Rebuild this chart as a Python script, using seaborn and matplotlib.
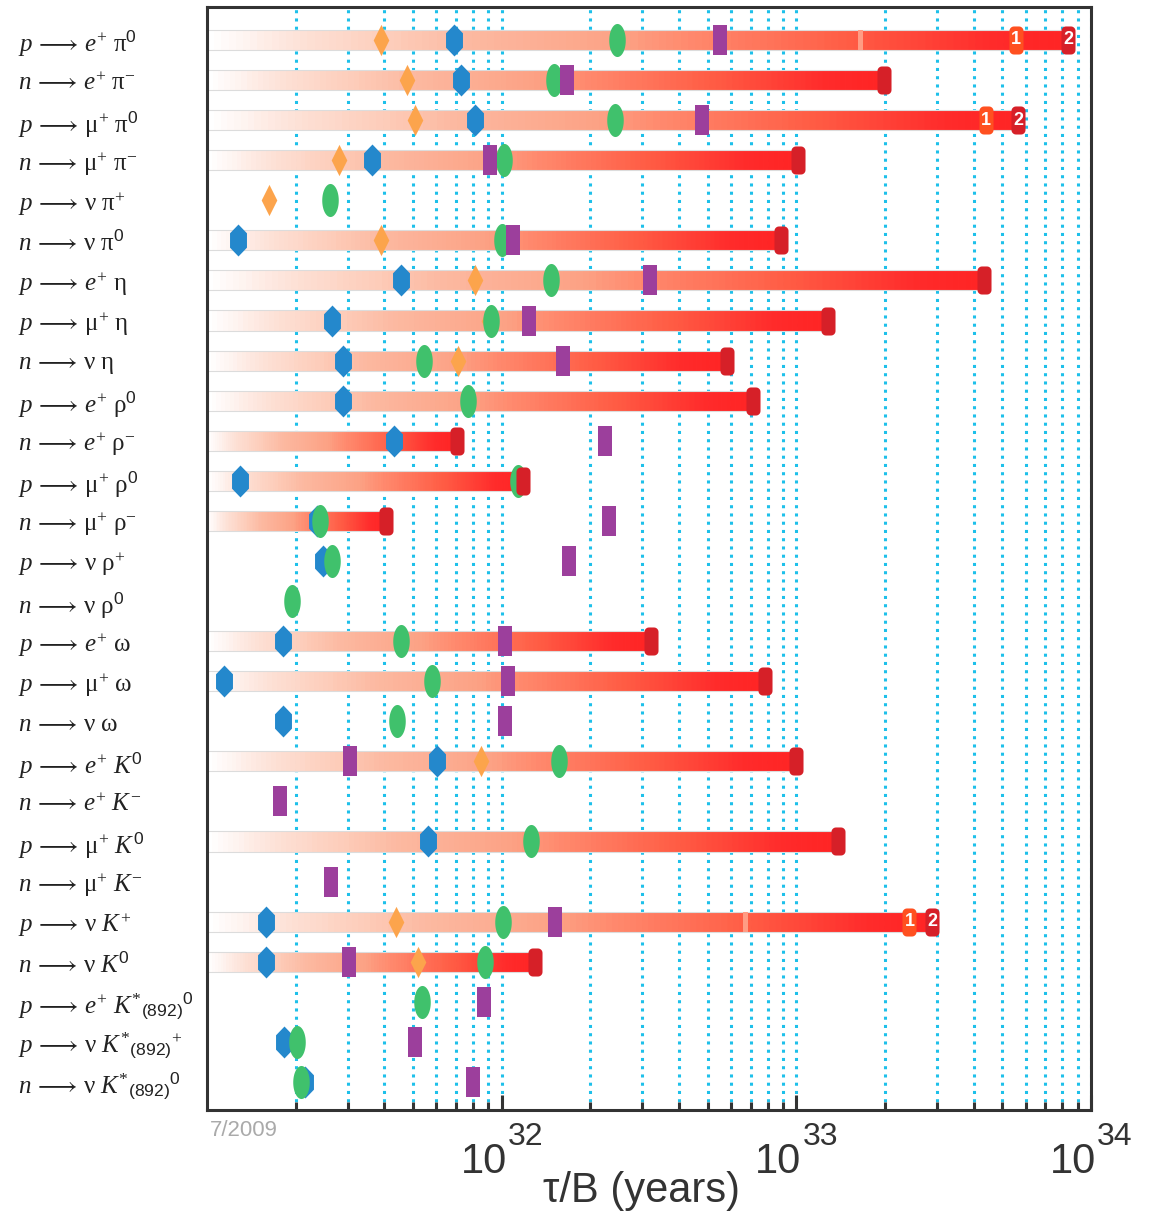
import numpy as np
import pandas as pd
import seaborn as sns
import matplotlib.pyplot as plt
import matplotlib.transforms as mtransforms
from matplotlib.colors import LinearSegmentedColormap
from matplotlib.markers import MarkerStyle
from matplotlib.path import Path
from matplotlib.ticker import LogLocator, NullFormatter

nan = np.nan
UNIT = 1e30  # all limits below are in units of 1e30 years

A = r'\,\longrightarrow\,'
KS = r'K^{*}{}_{\mathsf{(892)}}'
modes = [
    r'$p' + A + r'e^{+}\ \mathrm{\pi}^{\mathsf{0}}$',
    r'$n' + A + r'e^{+}\ \mathrm{\pi}^{-}$',
    r'$p' + A + r'\mathrm{\mu}^{+}\ \mathrm{\pi}^{\mathsf{0}}$',
    r'$n' + A + r'\mathrm{\mu}^{+}\ \mathrm{\pi}^{-}$',
    r'$p' + A + r'\mathrm{\nu}\ \mathrm{\pi}^{+}$',
    r'$n' + A + r'\mathrm{\nu}\ \mathrm{\pi}^{\mathsf{0}}$',
    r'$p' + A + r'e^{+}\ \mathrm{\eta}$',
    r'$p' + A + r'\mathrm{\mu}^{+}\ \mathrm{\eta}$',
    r'$n' + A + r'\mathrm{\nu}\ \mathrm{\eta}$',
    r'$p' + A + r'e^{+}\ \mathrm{\rho}^{\mathsf{0}}$',
    r'$n' + A + r'e^{+}\ \mathrm{\rho}^{-}$',
    r'$p' + A + r'\mathrm{\mu}^{+}\ \mathrm{\rho}^{\mathsf{0}}$',
    r'$n' + A + r'\mathrm{\mu}^{+}\ \mathrm{\rho}^{-}$',
    r'$p' + A + r'\mathrm{\nu}\ \mathrm{\rho}^{+}$',
    r'$n' + A + r'\mathrm{\nu}\ \mathrm{\rho}^{\mathsf{0}}$',
    r'$p' + A + r'e^{+}\ \mathrm{\omega}$',
    r'$p' + A + r'\mathrm{\mu}^{+}\ \mathrm{\omega}$',
    r'$n' + A + r'\mathrm{\nu}\ \mathrm{\omega}$',
    r'$p' + A + r'e^{+}\ K^{\mathsf{0}}$',
    r'$n' + A + r'e^{+}\ K^{-}$',
    r'$p' + A + r'\mathrm{\mu}^{+}\ K^{\mathsf{0}}$',
    r'$n' + A + r'\mathrm{\mu}^{+}\ K^{-}$',
    r'$p' + A + r'\mathrm{\nu}\ K^{+}$',
    r'$n' + A + r'\mathrm{\nu}\ K^{\mathsf{0}}$',
    r'$p' + A + r'e^{+}\ ' + KS + r'{}^{\mathsf{0}}$',
    r'$p' + A + r'\mathrm{\nu}\ ' + KS + r'{}^{+}$',
    r'$n' + A + r'\mathrm{\nu}\ ' + KS + r'{}^{\mathsf{0}}$',
]

orange = [38.9, 47.6, 51.0, 28.0, 16.2, 38.9, 80.9, 90.4, 71.0, nan,
          nan, nan, nan, nan, nan, nan, nan, nan, 84.9, nan,
          126, nan, 43.8, 51.9, nan, nan, nan]
blue = [68.7, 72.6, 80.9, 36.2, nan, 12.7, 45.5, 26.5, 28.9, 28.9,
        43.1, 12.9, 23.6, 24.7, nan, 18.1, 11.4, 18.1, 60.3, nan,
        56.1, nan, 15.8, 15.8, nan, 18.2, 21.5]
green = [247, 151, 242, 102, 26.1, 100, 147, 92.0, 54.5, 76.7,
         nan, 114, 24.2, 26.5, 19.4, 45.5, 57.9, 44.1, 156, nan,
         126, nan, 101, 87.5, 53.6, 20.2, 20.8]
purple = [552, 166, 480, 91.0, nan, 109, 318, 124, 161, nan,
          225, nan, 232, 169, nan, 103, 105, 103, 30.5, 17.7,
          nan, 26.3, 152, 30.3, 86.9, 50.7, 79.8]
# current limit (end of the bar)
limit = [8360, 1990, 5660, 1010, nan, 890, 4340, 1280, 580, 714,
         70.3, 118, 40.5, nan, nan, 322, 785, nan, 1000, nan,
         1380, nan, 2890, 130, nan, nan, nan]
# intermediate limits inside the bar
first_limit = [5570, nan, 4410] + [nan] * 19 + [2420] + [nan] * 4
older_limit = [1650] + [nan] * 21 + [671] + [nan] * 4

decades = [32, 33, 34]
x_min, x_max = 1e31, 1e34

sns.set_style('white')
plt.rcParams['font.family'] = ['Liberation Sans', 'DejaVu Sans']
plt.rcParams['mathtext.fontset'] = 'custom'
plt.rcParams['mathtext.rm'] = 'Liberation Serif'
plt.rcParams['mathtext.it'] = 'Liberation Serif:italic'
plt.rcParams['mathtext.sf'] = 'Liberation Sans'


def verts(kind, w):
    if kind == 'diamond':
        v = [(0, 1), (w, 0), (0, -1), (-w, 0), (0, 1)]
    elif kind == 'hex':
        v = [(0, 1), (w, .45), (w, -.45), (0, -1), (-w, -.45), (-w, .45), (0, 1)]
    elif kind == 'ellipse':
        t = np.linspace(0, 2 * np.pi, 60)
        v = list(zip(w * np.cos(t), np.sin(t)))
    elif kind == 'rect':
        v = [(-w, -1), (w, -1), (w, 1), (-w, 1), (-w, -1)]
    else:  # rounded rect
        r = 0.32
        v = []
        for cx, cy, a0 in [(w - r, 1 - r, 0), (-w + r, 1 - r, 90),
                           (-w + r, -1 + r, 180), (w - r, -1 + r, 270)]:
            a = np.radians(np.linspace(a0, a0 + 90, 8))
            v += list(zip(cx + r * np.cos(a), cy + r * np.sin(a)))
        v.append(v[0])
    return MarkerStyle(Path(np.array(v, dtype=float)))


fig = plt.figure(figsize=(11.5, 12.12), dpi=100)
ax = fig.add_axes([207 / 1150, 1 - 1110 / 1212, 884 / 1150, 1103 / 1212])
ax.set_xscale('log')
ax.set_xlim(x_min, x_max)
ax.set_ylim(26.70, -0.823)

# gradient bars, white at the left edge to red at the current limit
cmap = LinearSegmentedColormap.from_list('lim', [
    (0.0, '#ffffff'), (0.1, '#fde2d8'), (0.2, '#fdcfbd'), (0.3, '#fcb9a1'),
    (0.48, '#fca285'), (0.55, '#ff8c70'), (0.75, '#ff5c44'), (0.92, '#ff2a2a'),
    (1.0, '#ff2424')])
nseg = 120
for i, end in enumerate(limit):
    if np.isnan(end):
        continue
    edges = np.logspace(np.log10(x_min), np.log10(end * UNIT), nseg + 1)
    cols = cmap(np.linspace(0, 1, nseg))
    ax.barh(np.full(nseg, i), np.diff(edges), left=edges[:-1], height=0.5,
            color=cols, edgecolor=cols, linewidth=0.6, zorder=2)
    ax.barh(i, end * UNIT - x_min, left=x_min, height=0.5, fill=False,
            edgecolor='#dcdcdc', linewidth=0.8, zorder=2.1)

rows = np.arange(len(modes))


def frame(vals):
    d = pd.DataFrame({'row': rows, 'tau': np.array(vals, dtype=float) * UNIT})
    return d.dropna()


sns.scatterplot(data=frame(older_limit), x='tau', y='row', marker=verts('rect', 0.25),
                s=14.4 ** 2, color='#ff9c84', linewidth=0, zorder=2.2, ax=ax, legend=False)
sns.scatterplot(data=frame(blue), x='tau', y='row', marker=verts('hex', 0.53),
                s=23.0 ** 2, color='#2488cc', linewidth=0, zorder=3, ax=ax, legend=False)
sns.scatterplot(data=frame(orange), x='tau', y='row', marker=verts('diamond', 0.5),
                s=22.5 ** 2, color='#fca44c', linewidth=0, zorder=3.5, ax=ax, legend=False)
sns.scatterplot(data=frame(green), x='tau', y='row', marker=verts('ellipse', 0.5),
                s=23.8 ** 2, color='#40c16c', linewidth=0, zorder=4, ax=ax, legend=False)
sns.scatterplot(data=frame(purple), x='tau', y='row', marker=verts('rect', 0.5),
                s=20.9 ** 2, color='#9c3f9c', linewidth=0, zorder=4.5, ax=ax, legend=False)
sns.scatterplot(data=frame(limit), x='tau', y='row', marker=verts('round', 0.5),
                s=20.2 ** 2, color='#d62028', linewidth=0, zorder=5, ax=ax, legend=False)
sns.scatterplot(data=frame(first_limit), x='tau', y='row', marker=verts('round', 0.5),
                s=20.2 ** 2, color='#ff5020', linewidth=0, zorder=5, ax=ax, legend=False)

for i, (a, b) in enumerate(zip(first_limit, limit)):
    if np.isnan(a):
        continue
    ax.text(a * UNIT, i, '1', color='white', fontsize=13, fontweight='bold',
            ha='center', va='center', zorder=6)
    ax.text(b * UNIT, i, '2', color='white', fontsize=13, fontweight='bold',
            ha='center', va='center', zorder=6)

# dotted decade grid
ax.xaxis.set_minor_locator(LogLocator(base=10, subs=np.arange(2, 10), numticks=20))
ax.xaxis.set_minor_formatter(NullFormatter())
ax.set_xticks([10.0 ** d for d in decades])
ax.set_xticklabels([''] * len(decades))
ax.set_axisbelow(True)
ax.grid(which='both', axis='x', color='#1ec0ea', linestyle=(0, (1, 1.7)), linewidth=2.2)
ax.grid(which='both', axis='y', visible=False)

ax.tick_params(axis='x', which='major', direction='in', length=11, width=2.2,
               color='#333333', bottom=True)
ax.tick_params(axis='x', which='minor', direction='in', length=5.5, width=2.2,
               color='#333333', bottom=True)

# decade labels: "10" with a raised exponent
blend = mtransforms.blended_transform_factory(ax.transData, ax.transAxes)
base_tr = mtransforms.offset_copy(blend, fig=fig, x=5, y=0, units='dots')
exp_tr = mtransforms.offset_copy(blend, fig=fig, x=6, y=0, units='dots')
for d in decades:
    ax.text(10.0 ** d, -0.0571, '10', transform=base_tr, fontsize=30,
            color='#333333', ha='right', va='baseline', clip_on=False)
    ax.text(10.0 ** d, -0.0317, str(d), transform=exp_tr, fontsize=23,
            color='#333333', ha='left', va='baseline', clip_on=False)

ax.set_yticks(rows)
ax.set_yticklabels(modes)
ax.tick_params(axis='y', length=0, pad=136, labelsize=18, labelcolor='#222222')
for lab in ax.get_yticklabels():
    lab.set_ha('left')

for sp in ax.spines.values():
    sp.set_color('#333333')
    sp.set_linewidth(2.2)

ax.set_ylabel('')
ax.set_xlabel('τ/B (years)', fontsize=30, color='#333333')
ax.xaxis.set_label_coords(0.491, -0.0735)
ax.xaxis.label.set_va('center')

ax.text(0.003, -0.019, '7/2009', transform=ax.transAxes, fontsize=16,
        color='#aaaaaa', ha='left', va='center')

fig.savefig('out.png', dpi=100)
